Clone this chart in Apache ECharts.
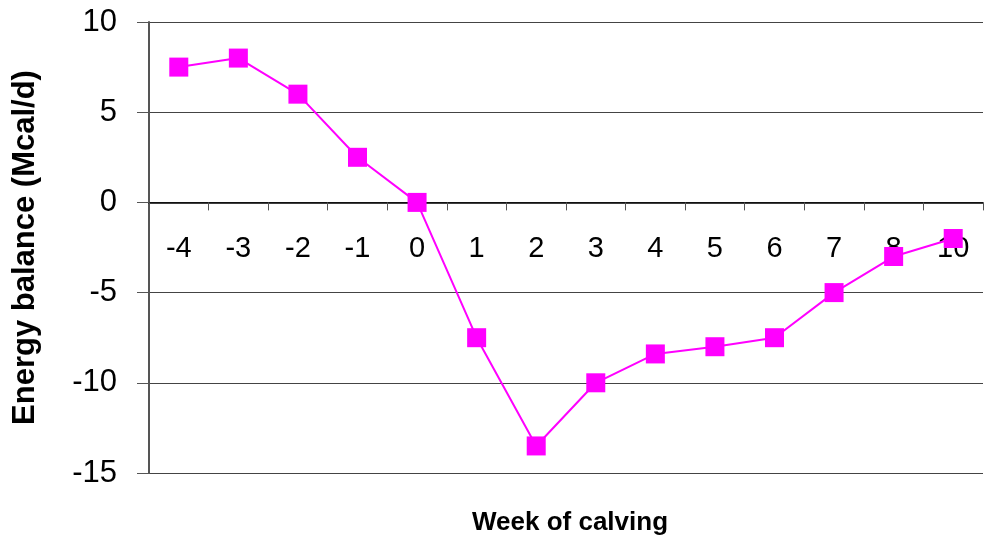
<!DOCTYPE html>
<html>
<head>
<meta charset="utf-8">
<script src="https://cdn.jsdelivr.net/npm/echarts@6/dist/echarts.min.js"></script>
<style>html,body{margin:0;padding:0;background:#fff}#c{width:986px;height:541px}</style>
</head>
<body>
<div id="c"></div>
<script>
var weeks = ['-4','-3','-2','-1','0','1','2','3','4','5','6','7','8','10'];
var energyBalance = [7.5, 8, 6, 2.5, 0, -7.5, -13.5, -10, -8.4, -8, -7.5, -5, -3, -2];
var yTicks = {min: -15, max: 10, interval: 5};
var yTitle = 'Energy balance (Mcal/d)';
var xTitle = 'Week of calving';

var gridTop = 22, gridBottom = 68, H = 541;
var plotH = H - gridTop - gridBottom;
var zeroFromBottom = plotH * (0 - yTicks.min) / (yTicks.max - yTicks.min);

var chart = echarts.init(document.getElementById('c'));
chart.setOption({
  animation: false,
  backgroundColor: '#ffffff',
  grid: {left: 149, right: 3, top: gridTop, bottom: gridBottom},
  xAxis: {
    type: 'category',
    data: weeks,
    boundaryGap: true,
    position: 'bottom',
    offset: -zeroFromBottom,
    axisLine: {onZero: false, lineStyle: {color: '#000', width: 1.5}},
    axisTick: {show: true, inside: false, length: 8, lineStyle: {color: '#555', width: 1}},
    axisLabel: {margin: 32, color: '#000', fontSize: 29, fontFamily: 'Liberation Sans, Arial, sans-serif'},
    splitLine: {show: false}
  },
  yAxis: {
    type: 'value',
    min: yTicks.min, max: yTicks.max, interval: yTicks.interval,
    name: yTitle,
    nameLocation: 'middle',
    nameGap: 108,
    nameTextStyle: {color: '#000', fontSize: 31, fontWeight: 'bold', fontFamily: 'Liberation Sans, Arial, sans-serif'},
    axisLine: {show: true, lineStyle: {color: '#555', width: 2}},
    axisTick: {show: true, inside: false, length: 12, lineStyle: {color: '#555', width: 1}},
    axisLabel: {margin: 32, color: '#000', fontSize: 31, fontFamily: 'Liberation Sans, Arial, sans-serif'},
    splitLine: {show: true, lineStyle: {color: '#444', width: 1}}
  },
  graphic: [{
    type: 'text',
    x: 570, y: 510,
    style: {
      text: xTitle,
      fill: '#000',
      font: 'bold 26px "Liberation Sans", Arial, sans-serif',
      textAlign: 'center'
    }
  }],
  series: [{
    type: 'line',
    data: energyBalance,
    symbol: 'rect',
    symbolSize: 19,
    itemStyle: {color: '#ff00ff'},
    lineStyle: {color: '#ff00ff', width: 2}
  }]
});
</script>
</body>
</html>
